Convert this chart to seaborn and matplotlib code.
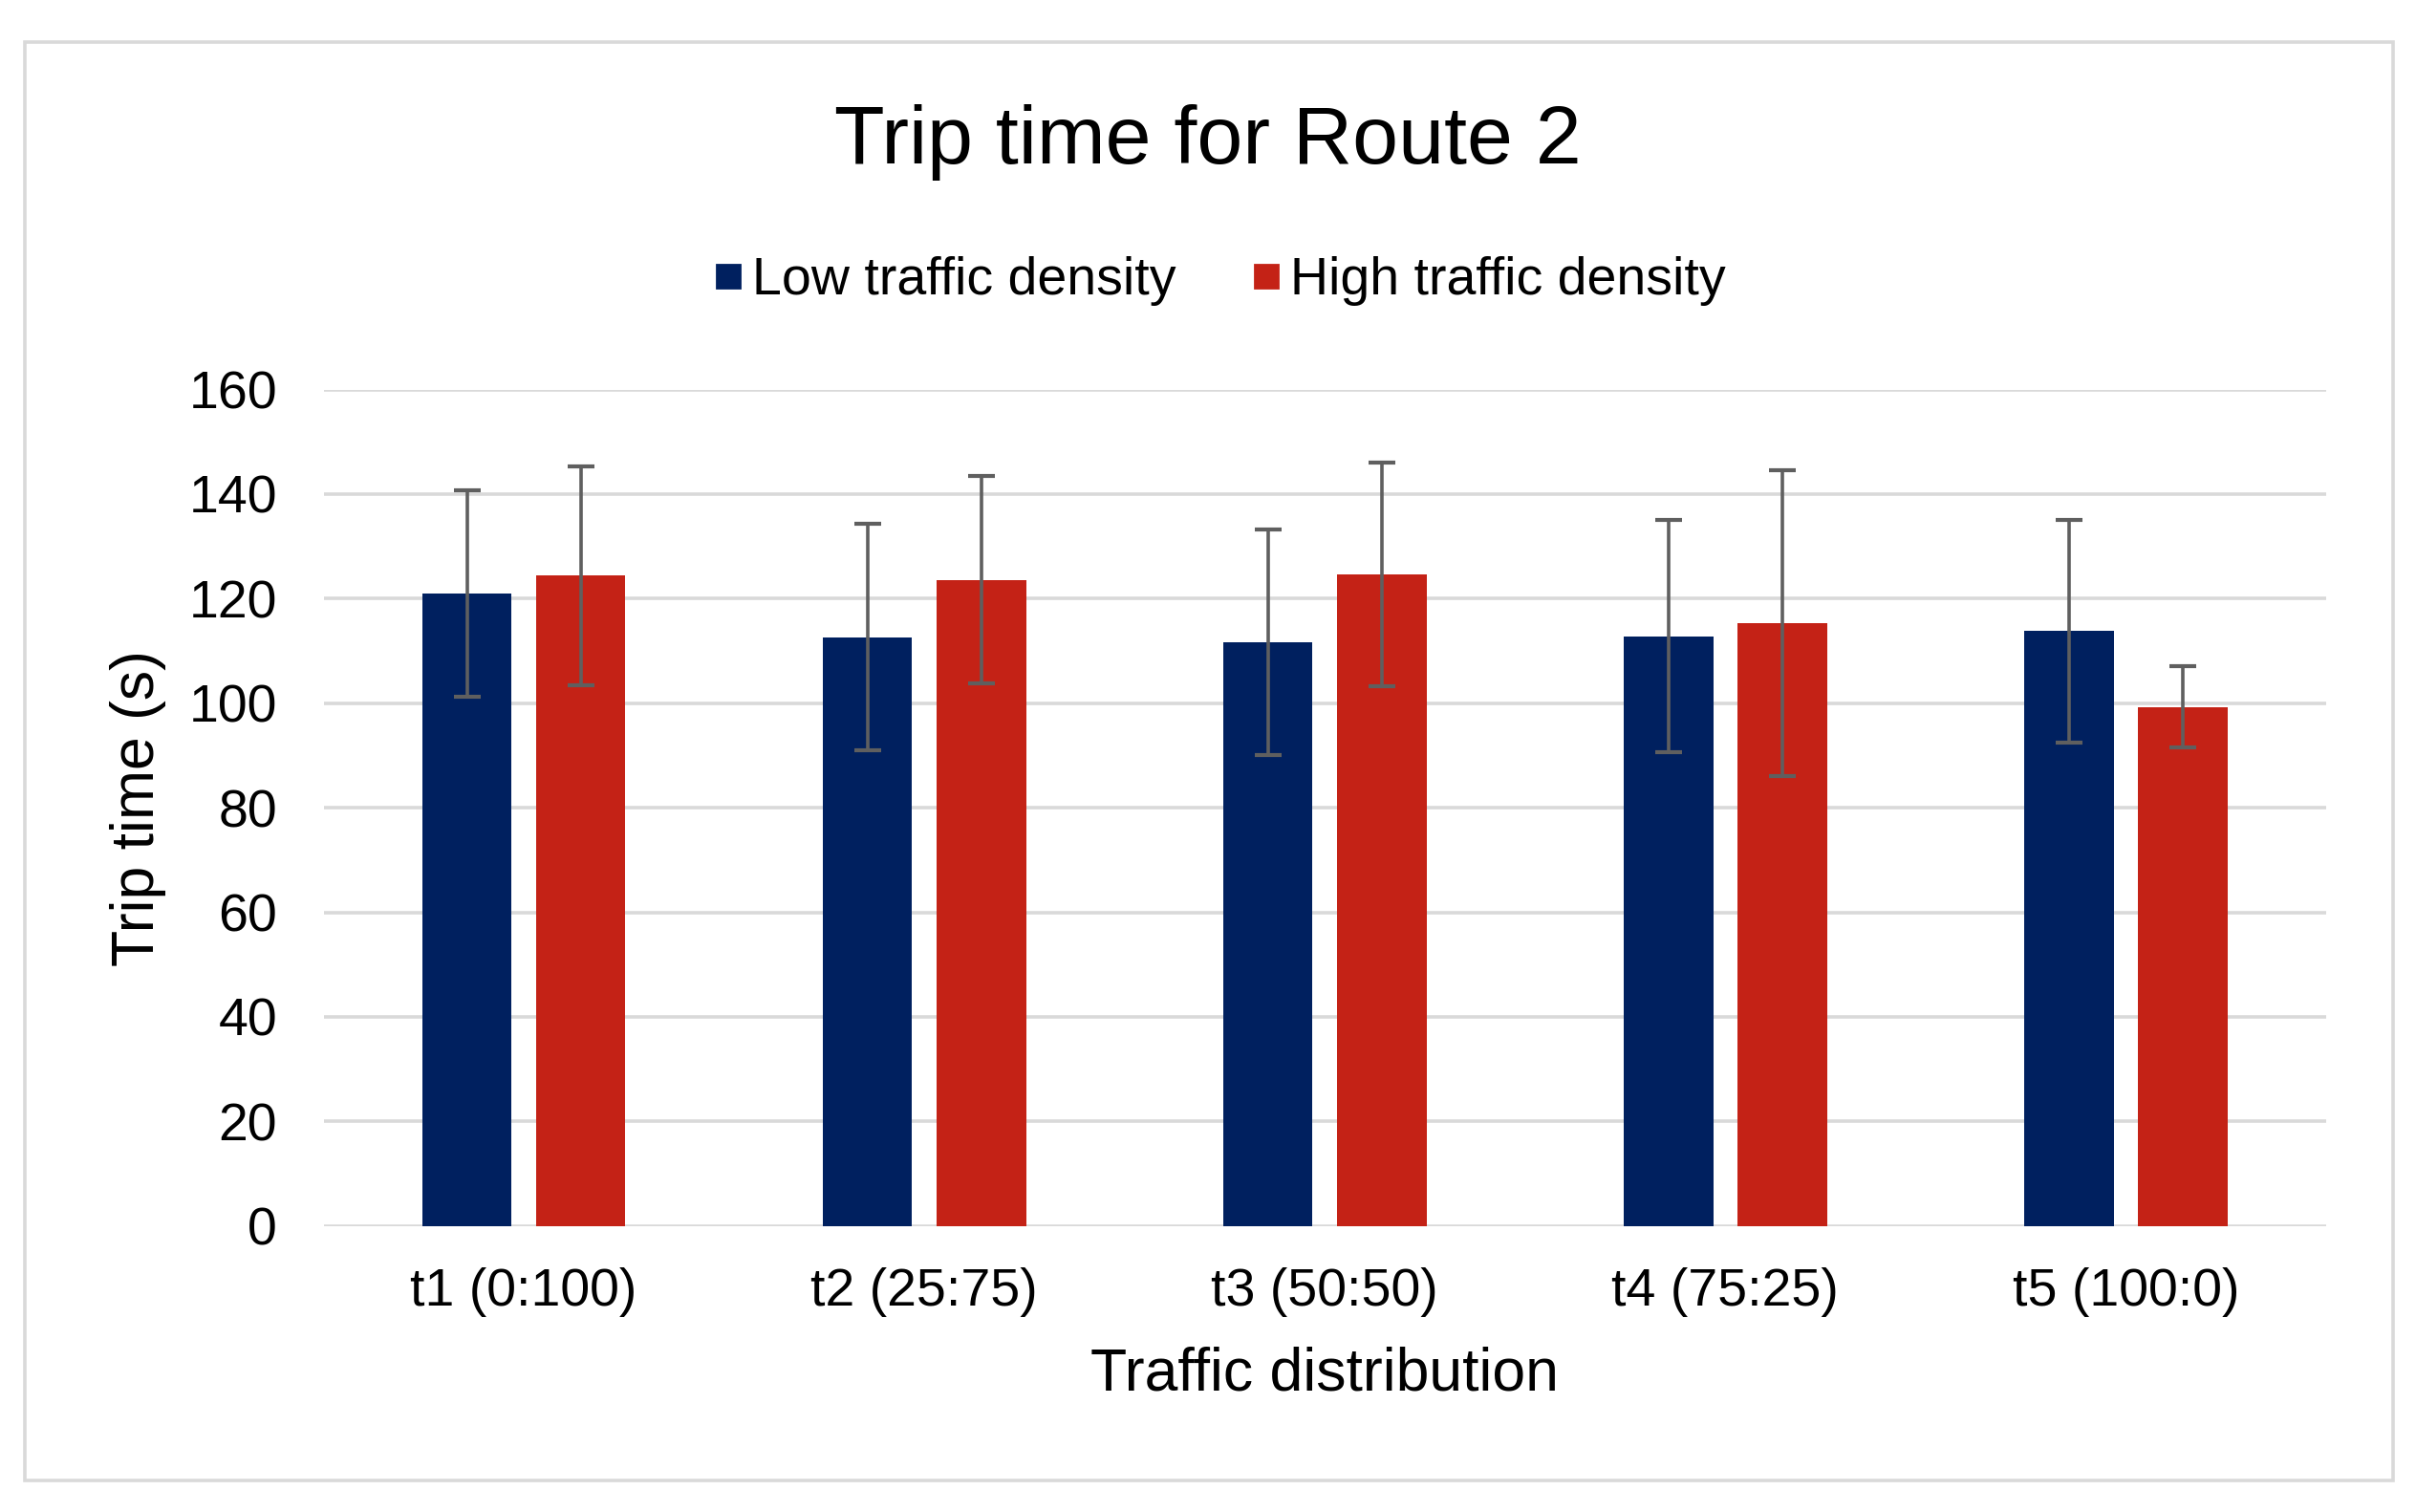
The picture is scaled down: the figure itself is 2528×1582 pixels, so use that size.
import matplotlib
matplotlib.use("Agg")
import matplotlib.pyplot as plt
from matplotlib.patches import Rectangle
from matplotlib.lines import Line2D
import seaborn as sns
import pandas as pd

categories = ["t1 (0:100)", "t2 (25:75)", "t3 (50:50)", "t4 (75:25)", "t5 (100:0)"]
series_names = ["Low traffic density", "High traffic density"]
low_values = [121.0, 112.6, 111.6, 112.8, 113.8]
low_errors = [19.8, 21.7, 21.6, 22.2, 21.3]
high_values = [124.4, 123.6, 124.6, 115.3, 99.3]
high_errors = [20.9, 19.8, 21.4, 29.2, 7.75]
y_ticks = [0, 20, 40, 60, 80, 100, 120, 140, 160]

colors = ["#00205F", "#C42216"]

df = pd.DataFrame({
    "category": categories * 2,
    "series": [series_names[0]] * len(categories) + [series_names[1]] * len(categories),
    "value": low_values + high_values,
})
errors = {series_names[0]: low_errors, series_names[1]: high_errors}

sns.set_theme(style="white")
plt.rcParams["font.family"] = ["Liberation Sans", "DejaVu Sans"]
plt.rcParams["text.color"] = "black"
plt.rcParams["axes.labelcolor"] = "black"

W, H, DPI = 2528, 1582, 200
fig = plt.figure(figsize=(W / DPI, H / DPI), dpi=DPI, facecolor="white")
ax = fig.add_axes([338.6 / W, 1 - 1282.7 / H, (2434 - 338.6) / W, (1282.7 - 407.5) / H])

sns.barplot(data=df, x="category", y="value", hue="series", order=categories,
            hue_order=series_names, palette=colors, width=0.569, gap=0.216,
            linewidth=0, saturation=1, legend=False, ax=ax, errorbar=None)

for name, container in zip(series_names, ax.containers):
    xs = [b.get_x() + b.get_width() / 2 for b in container]
    ys = [b.get_height() for b in container]
    ax.errorbar(xs, ys, yerr=errors[name], fmt="none", ecolor="#5F5F5F",
                elinewidth=1.3, capsize=4.9, capthick=1.5, zorder=5)

ax.set_ylim(0, 160)
ax.set_xlim(-0.5, 4.5)
ax.set_yticks(y_ticks)
ax.grid(axis="y", color="#D9D9D9", linewidth=1.3)
ax.grid(axis="x", visible=False)
ax.set_axisbelow(True)
for s in ax.spines.values():
    s.set_visible(False)
ax.tick_params(axis="y", length=0, pad=17.5, labelsize=20, labelcolor="black")
ax.tick_params(axis="x", length=0, pad=15.5, labelsize=20, labelcolor="black")

ax.set_xlabel("Traffic distribution", fontsize=22.5, color="black", va="center")
ax.set_ylabel("Trip time (s)", fontsize=22.5, color="black", va="center")
ax.xaxis.set_label_coords(0.5, -0.177)
ax.yaxis.set_label_coords(-0.0924, 0.5)

fig.text(0.5, 1 - 149 / H, "Trip time for Route 2", ha="center", va="center",
         fontsize=31, color="black")

handles = [Line2D([], [], marker="s", linestyle="none", markersize=8.4,
                  markerfacecolor=c, markeredgecolor=c) for c in colors]
fig.legend(handles, series_names, loc="center", bbox_to_anchor=(0.505, 1 - 294 / H),
           ncol=2, frameon=False, fontsize=20, handlelength=0.5, handletextpad=0.2,
           columnspacing=1.45, borderaxespad=0, labelcolor="black")

fig.patches.append(Rectangle((26 / W, 1 - 1549 / H), (2504 - 26) / W, (1549 - 44) / H,
                             transform=fig.transFigure, fill=False,
                             edgecolor="#D9D9D9", linewidth=1.3))

fig.savefig("out.png", dpi=DPI, facecolor="white")
